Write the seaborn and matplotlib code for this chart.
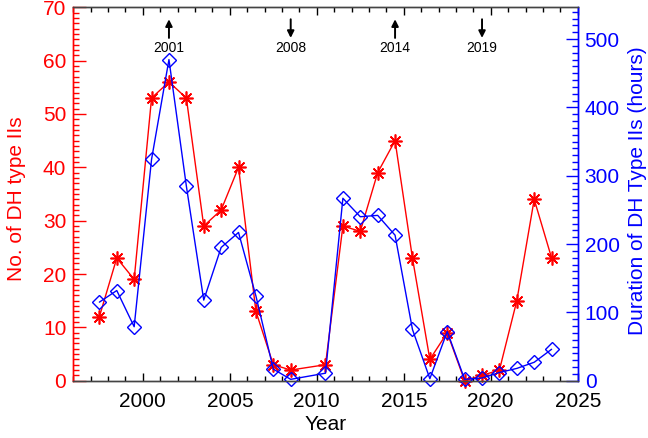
import pandas as pd
import seaborn as sns
import matplotlib.pyplot as plt
import matplotlib.transforms as mtransforms
from matplotlib.ticker import MultipleLocator

# Data (mid-year positions, 2009 has no events)
years = [1997.5, 1998.5, 1999.5, 2000.5, 2001.5, 2002.5, 2003.5, 2004.5, 2005.5,
         2006.5, 2007.5, 2008.5, 2010.5, 2011.5, 2012.5, 2013.5, 2014.5, 2015.5,
         2016.5, 2017.5, 2018.5, 2019.5, 2020.5, 2021.5, 2022.5, 2023.5]
counts = [12, 23, 19, 53, 56, 53, 29, 32, 40, 13, 3, 2, 3, 29, 28, 39, 45, 23,
          4, 9, 0, 1, 2, 15, 34, 23]
hours = [115, 132, 79, 324, 470, 285, 118, 195, 217, 124, 17, 2, 11, 267, 240, 242,
         213, 75, 3, 72, 2, 4, 12, 18, 27, 46]

# solar cycle max / min markers
cycle_years = [2001, 2008, 2014, 2019]
cycle_dirs = ['up', 'down', 'up', 'down']

df = pd.DataFrame({'year': years, 'count': counts, 'hours': hours})

sns.set_style('ticks')
plt.rcParams['font.family'] = ['Liberation Sans', 'DejaVu Sans']

fig = plt.figure(figsize=(6.48, 4.38), dpi=100)
ax = fig.add_axes([0.1131, 0.1308, 0.7784, 0.8525])
ax2 = ax.twinx()

sns.lineplot(data=df, x='year', y='count', ax=ax, color='red', linewidth=1,
             marker=(8, 2, 0), markersize=10, markeredgewidth=1.2,
             markeredgecolor='red', markerfacecolor='red', clip_on=False)
sns.lineplot(data=df, x='year', y='hours', ax=ax2, color='blue', linewidth=1,
             marker='D', markersize=7, markeredgewidth=1,
             markeredgecolor='blue', markerfacecolor='none', clip_on=False)

ax.set_xlim(1996, 2025)
ax.set_ylim(0, 70)
ax2.set_ylim(0, 546.5)

ax.xaxis.set_major_locator(MultipleLocator(5))
ax.xaxis.set_minor_locator(MultipleLocator(1))
ax.yaxis.set_major_locator(MultipleLocator(10))
ax.yaxis.set_minor_locator(MultipleLocator(1))
ax2.yaxis.set_major_locator(MultipleLocator(100))
ax2.yaxis.set_minor_locator(MultipleLocator(10))

ax.tick_params(axis='x', which='both', direction='in', top=True, colors='black',
               labelsize=15, pad=8, width=1)
ax.tick_params(axis='x', which='major', length=6)
ax.tick_params(axis='x', which='minor', length=3.5)
ax.tick_params(axis='y', which='both', direction='in', colors='red',
               labelsize=15, pad=5, width=1)
ax.tick_params(axis='y', which='major', length=9)
ax.tick_params(axis='y', which='minor', length=4.5)
ax2.tick_params(axis='y', which='both', direction='in', colors='blue',
                labelsize=15, pad=5, width=1)
ax2.tick_params(axis='y', which='major', length=9)
ax2.tick_params(axis='y', which='minor', length=4.5)

for a in (ax, ax2):
    a.spines['left'].set_color('red')
    a.spines['right'].set_color('blue')
    a.spines['bottom'].set_color('#444444')
    a.spines['top'].set_color('#444444')
    for s in a.spines.values():
        s.set_linewidth(1)

ax.set_xlabel('Year', fontsize=15, color='black', labelpad=3)
ax.set_ylabel('No. of DH type IIs', fontsize=15, color='red')
ax2.set_ylabel('Duration of DH Type IIs (hours)', fontsize=15, color='blue')
ax.yaxis.set_label_coords(-0.094, 0.487)
ax2.yaxis.set_label_coords(1.1, 0.509)

trans = mtransforms.blended_transform_factory(ax.transData, ax.transAxes)
for yr, d in zip(cycle_years, cycle_dirs):
    x = yr + 0.5
    if d == 'up':
        tip, tail = 0.968, 0.918
    else:
        tip, tail = 0.918, 0.968
    ax2.annotate('', xy=(x, tip), xycoords=trans, xytext=(x, tail), textcoords=trans,
                 arrowprops=dict(arrowstyle='-|>', color='black', lw=1.4,
                                 mutation_scale=10, shrinkA=0, shrinkB=0))
    ax2.text(x, 0.892, str(yr), transform=trans, ha='center', va='center',
             fontsize=10, color='black')

fig.savefig('out.png', dpi=100)
